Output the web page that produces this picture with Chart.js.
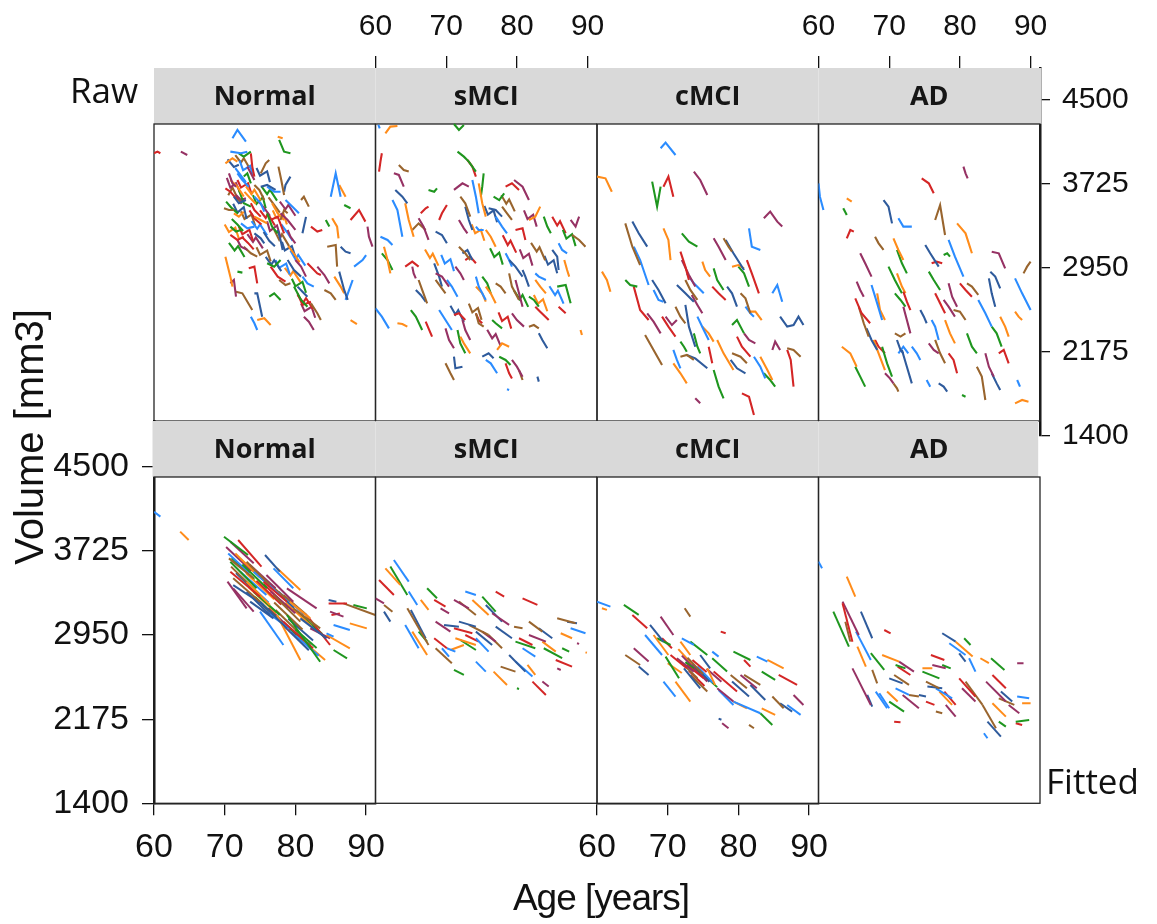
<!DOCTYPE html>
<html lang="en">
<head>
<meta charset="UTF-8" />
<title>Volume trajectories</title>
<script src="https://cdn.jsdelivr.net/npm/chart.js"></script>
<style>
  body { margin: 0; background: #fff; width: 1157px; height: 924px; position: relative; overflow: hidden; }
  canvas { position: absolute; left: 0; top: 0; }
  .lab { position: absolute; z-index: 10; color: #111; white-space: nowrap; }
  #raw { left: 70px; top: 72px; font: 35px/35px "Open Sans", sans-serif; }
  #fitted { left: 1046px; top: 763px; font: 35px/35px "Open Sans", sans-serif; }
  #ylab { left: -121px; top: 417px; width: 300px; text-align: center; font: 40px/40px "Liberation Sans", Arial, sans-serif; transform: rotate(-90deg); }
  #xlab { left: 451px; top: 878px; width: 300px; text-align: center; font: 37px/40px "Liberation Sans", Arial, sans-serif; letter-spacing: -1px; }
</style>
</head>
<body>
<div class="lab" id="raw">Raw</div>
<div class="lab" id="fitted">Fitted</div>
<div class="lab" id="ylab">Volume [mm3]</div>
<div class="lab" id="xlab">Age [years]</div>

<script>
const groups = ['Normal', 'sMCI', 'cMCI', 'AD'];
const ageTicks = [60, 70, 80, 90];
const volumeTicks = [1400, 2175, 2950, 3725, 4500];

// one subject per row: age, volume, age, volume, ...
const rawNormal = [
  [71.1,4144, 71.8,4221, 73.0,4113], [77.5,4159, 78.2,4144], [77.7,4129, 78.4,4021, 79.3,4006],
  [60.0,4006, 60.5,4021, 60.9,4006], [63.8,4021, 64.7,3990], [77.6,3883, 78.0,3760, 78.4,3622],
  [78.4,3652, 78.6,3714, 79.3,3791], [85.0,3606, 85.7,3821, 86.4,3606], [86.2,3714, 87.1,3606],
  [86.9,3529, 87.8,3499], [87.8,3391, 89.0,3483, 89.9,3376], [90.2,3330, 90.4,3237, 90.9,3145],
  [80.8,3575, 81.2,3606, 81.9,3514], [81.0,3268, 81.5,3420], [78.6,3575, 79.8,3499, 80.5,3453],
  [85.2,3407, 85.9,3330, 86.1,3222], [84.3,3391, 84.8,3330], [82.2,3330, 83.1,3284, 83.8,3299],
  [78.9,3299, 79.3,3237, 80.0,3176], [84.5,3145, 85.7,3161, 85.9,2961], [86.4,3145, 87.1,3099, 87.8,3084],
  [88.3,2961, 89.5,3022, 90.0,3068], [70.1,3053, 70.8,2869, 71.1,2777], [71.8,2915, 72.5,2906],
  [73.4,2946, 74.2,2961, 74.6,2807], [70.8,2807, 71.3,2838, 71.6,2685], [71.6,2730, 72.5,2715, 73.9,2561],
  [74.2,2715, 74.6,2715, 75.3,2500], [73.7,2500, 74.2,2439, 74.6,2377], [74.6,2469, 75.6,2485, 76.5,2423],
  [76.3,2684, 77.0,2715, 77.9,2654], [81.7,2992, 83.1,2899, 83.6,2884], [83.1,2961, 84.1,2884, 84.8,2807],
  [84.1,2746, 85.0,2715, 85.7,2654], [86.2,2915, 86.9,2746, 87.4,2654], [87.1,2654, 87.6,2746, 88.1,2838],
  [85.5,2869, 86.4,2777, 86.9,2715], [79.8,2777, 80.8,2654, 81.7,2592], [80.3,2715, 81.0,2608, 82.2,2638],
  [81.2,2500, 81.9,2454, 82.6,2377], [82.2,2623, 83.1,2531, 83.6,2469], [80.3,2777, 81.0,2730, 81.7,2684],
  [81.0,2869, 81.7,2807, 82.6,2777], [87.8,2469, 88.7,2432], [76.0,2992, 77.0,2961, 77.9,3022],
  [76.5,2961, 77.5,2869, 78.6,2823], [80.0,3022, 80.8,2961, 81.5,2869], [77.7,2838, 78.6,2792, 79.3,2807],
  [78.9,3022, 79.8,2930, 80.8,2869], [70.8,4021, 72.3,4006, 73.2,4021], [70.1,3913, 71.1,3960, 71.8,3929],
  [72.0,4006, 72.7,3975, 73.7,4021], [73.7,4006, 73.9,3883, 74.2,3791], [70.6,3821, 71.1,3729, 71.6,3698],
  [69.9,3499, 70.6,3483, 71.3,3483], [71.3,3606, 72.0,3545, 73.0,3575], [71.8,3821, 72.5,3760, 73.4,3698],
  [70.8,3760, 71.8,3698, 72.7,3606], [72.0,3668, 72.7,3545, 73.7,3514], [73.7,3545, 74.2,3483, 75.1,3422],
  [73.2,3883, 73.7,3821, 74.2,3760], [75.1,3821, 75.8,3913, 76.3,3944], [75.1,3698, 76.0,3714, 77.2,3668],
  [76.0,3698, 77.0,3652, 77.9,3652], [71.3,3453, 72.0,3422, 72.7,3468], [70.8,3330, 71.6,3284, 72.3,3299],
  [70.8,3253, 71.8,3207, 72.7,3237], [71.8,3207, 72.3,3145, 73.2,3115], [72.7,3145, 73.7,3084, 74.6,3053],
  [74.2,3268, 75.1,3222, 75.6,3176], [72.3,3360, 73.2,3314, 74.2,3330], [74.2,3422, 75.1,3391, 76.0,3360],
  [76.0,3453, 76.7,3330, 77.5,3268], [76.5,3391, 77.5,3422, 78.4,3268], [77.9,3453, 78.9,3391, 80.0,3299],
  [77.9,3391, 78.4,3483, 78.9,3453], [77.5,3299, 77.9,3207, 78.2,3115], [74.2,3606, 75.1,3545, 75.6,3468],
  [76.7,3545, 77.5,3453, 78.4,3391], [72.7,3791, 73.2,3821, 73.7,3729], [70.1,3683, 70.8,3652, 71.8,3575],
  [71.6,3622, 72.3,3575, 73.0,3591], [74.2,3714, 74.9,3668, 75.6,3575], [70.4,3950, 71.3,3880, 72.0,3900],
  [71.5,3870, 72.3,3800, 73.0,3740], [72.8,3650, 73.5,3600, 74.4,3540], [70.2,3560, 71.0,3500, 71.9,3450],
  [73.5,3480, 74.3,3400, 75.2,3350], [74.8,3560, 75.6,3500, 76.4,3430], [76.2,3600, 77.0,3530, 77.8,3460],
  [75.5,3280, 76.3,3200, 77.1,3150], [78.0,3350, 78.8,3280, 79.6,3200], [79.0,3150, 79.8,3080, 80.6,3000],
  [71.0,3400, 71.8,3350, 72.6,3290], [72.5,3230, 73.3,3180, 74.1,3120],
  [70.3,3780, 70.8,3690, 71.6,3730, 72.2,3640], [70.5,3620, 71.1,3690, 71.9,3580, 72.4,3540],
  [71.2,3540, 71.8,3460, 72.7,3510, 73.1,3400], [72.1,3940, 72.6,3850, 73.6,3890, 74.0,3800],
  [73.0,3700, 73.8,3630, 74.2,3670, 75.1,3570], [74.0,3620, 74.5,3540, 75.4,3600, 75.8,3500],
  [75.0,3480, 75.8,3410, 76.1,3450, 77.1,3340], [76.0,3380, 76.4,3290, 77.4,3340, 77.9,3230],
  [77.0,3300, 77.7,3210, 78.1,3260, 79.1,3150], [78.1,3190, 78.5,3110, 79.5,3150, 80.0,3050],
  [79.3,3110, 80.0,3030, 80.4,3070, 81.4,2970], [70.0,3350, 70.6,3280, 71.5,3320, 72.0,3220],
  [70.6,3180, 71.4,3110, 71.9,3150, 72.8,3050], [72.0,3330, 72.5,3260, 73.5,3300, 74.0,3200],
  [73.2,3260, 74.0,3190, 74.4,3230, 75.4,3130], [74.5,3140, 75.0,3070, 76.0,3110, 76.5,3010],
  [75.8,3050, 76.6,2980, 77.0,3020, 78.0,2920], [77.2,3020, 77.7,2950, 78.7,2990, 79.2,2890],
  [78.5,2950, 79.3,2880, 79.7,2920, 80.7,2820], [79.5,2850, 80.0,2780, 81.0,2820, 81.5,2720],
  [80.3,2700, 81.1,2630, 81.5,2670, 82.5,2570], [80.8,2620, 81.3,2550, 82.3,2590, 82.8,2490],
  [71.5,3990, 72.3,3920, 72.7,3960, 73.5,3870], [74.5,3870, 75.0,3800, 76.0,3840, 76.4,3740],
  [73.8,3380, 74.6,3310, 75.0,3350, 76.0,3250], [76.8,3480, 77.3,3410, 78.3,3450, 78.8,3350],
  [75.2,3700, 76.0,3630, 76.4,3670, 77.4,3570], [71.8,3760, 72.3,3690, 73.3,3730, 73.8,3630],
  [77.8,3560, 78.6,3490, 79.0,3530, 80.0,3430], [72.3,3470, 72.8,3400, 73.8,3440, 74.3,3340]
];

const rawSMCI = [
  [60.4,4267, 60.6,4236], [61.4,4190, 62.1,4252, 63.1,4258], [71.1,4276, 71.8,4221, 72.5,4267],
  [60.5,3837, 60.7,3929, 60.9,4006], [62.6,3821, 63.3,3806, 64.0,3698], [63.3,3898, 64.0,3852, 64.7,3837],
  [62.8,3668, 63.8,3606, 64.5,3545], [62.4,3575, 63.1,3483, 63.8,3237], [64.2,3545, 64.7,3391, 65.4,3237],
  [67.5,3668, 68.3,3652, 68.7,3683], [66.4,3453, 67.1,3499, 67.5,3514], [66.1,3407, 66.8,3330, 67.5,3207],
  [65.2,3299, 66.1,3360, 67.1,3299], [68.5,3284, 69.4,3253, 70.1,3176], [60.7,3237, 61.7,3207, 62.4,3161],
  [61.2,3145, 61.7,3022, 62.1,2899], [60.9,3084, 61.7,3022, 62.4,2930], [64.2,2961, 65.2,3007, 66.1,2961],
  [65.2,2961, 65.4,2899, 65.7,2853], [66.1,2838, 66.6,2746, 67.3,2623], [65.7,2746, 66.4,2700, 67.1,2638],
  [60.0,2577, 60.9,2500, 61.9,2392], [63.1,2439, 63.8,2432, 64.5,2408], [65.0,2561, 65.7,2500, 66.6,2377],
  [67.1,2454, 67.5,2392, 68.0,2316], [69.9,2392, 70.4,2285, 71.1,2208], [69.9,2070, 70.6,1978, 71.1,1916],
  [71.1,2131, 71.3,2024, 72.3,2039], [69.0,2561, 69.9,2469, 70.8,2377], [72.0,2316, 72.5,2254, 73.4,2162],
  [71.6,2377, 72.0,2254, 72.7,2162], [71.1,2515, 71.8,2531, 72.7,2469], [72.3,2469, 72.7,2377, 73.4,2285],
  [74.2,2531, 74.6,2439, 75.3,2408], [75.1,2131, 76.0,2162, 76.7,2116], [75.6,2101, 76.3,2070, 77.2,1978],
  [77.2,2193, 77.9,2254, 78.9,2223], [77.5,2131, 78.4,2101, 79.1,2054], [78.4,2070, 78.9,1978, 79.3,1931],
  [79.3,2101, 80.0,2039, 80.8,1947], [80.3,2008, 80.8,1916], [82.9,1947, 83.1,1901], [78.6,1830, 78.9,1824],
  [89.0,2377, 89.2,2331], [71.6,4021, 72.5,3975, 73.2,3929, 74.2,3837], [73.0,3944, 73.7,3883, 74.2,3791],
  [71.1,3668, 72.3,3729, 73.2,3698], [72.0,3606, 72.7,3545, 73.4,3422], [72.7,3514, 73.2,3391, 73.7,3299],
  [73.7,3760, 74.2,3606, 74.6,3453], [74.6,3729, 75.1,3545, 75.6,3422], [74.9,3606, 75.1,3698, 75.3,3821],
  [69.0,3391, 69.4,3453, 70.1,3529], [71.8,3391, 72.5,3314, 73.0,3268], [71.8,3145, 72.7,3084, 73.4,3022],
  [72.3,3084, 73.0,3115, 73.7,3022], [74.2,3330, 74.6,3299, 75.3,3299], [75.6,3299, 76.3,3237, 77.0,3145],
  [76.7,3606, 77.5,3575, 78.2,3637], [78.4,3698, 79.3,3729, 80.3,3668], [79.6,3760, 80.8,3698, 81.7,3575],
  [77.9,3514, 78.6,3453, 79.3,3391], [76.0,3499, 77.0,3483, 77.9,3422], [77.0,3422, 77.9,3330, 78.6,3268],
  [81.7,3391, 82.6,3422, 83.3,3514], [83.8,3422, 84.3,3330, 84.8,3268], [79.8,3299, 80.8,3314, 81.2,3207],
  [87.6,3391, 88.3,3330, 88.8,3422], [87.8,3253, 88.8,3207, 89.7,3145], [85.0,3115, 85.7,3053, 85.9,2930],
  [85.9,3176, 86.4,3115, 87.1,3084], [86.7,3022, 87.1,2930, 87.4,2869], [85.7,2777, 86.9,2792, 87.6,2623],
  [85.9,2592, 86.4,2561, 86.9,2531], [79.8,2838, 80.3,2715, 80.8,2592], [78.9,2899, 79.3,2777, 80.3,2654],
  [78.9,3022, 79.8,2961, 80.8,2869], [82.6,2899, 83.1,2869, 84.1,2838], [82.6,2838, 83.3,2777, 84.1,2715],
  [81.7,2684, 82.4,2654, 83.1,2592], [82.6,2592, 83.3,2546, 84.5,2469], [79.3,2531, 80.0,2469, 81.0,2408],
  [81.7,2408, 82.4,2423, 83.1,2392], [83.1,2346, 83.6,2285, 84.3,2208], [74.2,2869, 74.6,2777, 75.6,2654],
  [75.6,2777, 76.3,2715, 77.0,2623], [76.5,2469, 77.0,2439, 77.9,2392], [74.2,2531, 74.6,2469, 75.1,2439],
  [68.5,2899, 69.4,2869, 70.4,2777], [68.5,2838, 69.2,2777, 69.9,2715], [68.3,2992, 69.0,2869, 69.4,2777],
  [70.1,2838, 70.8,2777, 71.6,2684], [74.2,2777, 75.1,2715, 75.6,2638], [75.1,2869, 75.8,2807, 76.3,2715],
  [72.7,3022, 73.4,3053, 74.2,2992], [71.3,2961, 72.0,2899, 72.5,2838], [77.0,2807, 77.7,2777, 78.4,2715],
  [80.8,2930, 81.2,2869, 81.7,2777], [78.4,3084, 78.9,3022, 79.3,2961],
  [73.6,3350, 74.1,3270, 74.9,3300, 75.4,3200], [76.2,3130, 76.8,3050, 77.5,3090, 78.0,2980],
  [78.0,3250, 78.7,3160, 79.1,3200, 79.9,3090], [80.4,3120, 80.9,3040, 81.7,3080, 82.2,2970],
  [82.0,3180, 82.8,3100, 83.2,3140, 84.0,3020], [83.9,3060, 84.4,2980, 85.2,3020, 85.7,2900],
  [84.6,2780, 85.4,2700, 85.8,2740, 86.6,2620], [82.4,2700, 83.0,2620, 83.7,2660, 84.3,2550],
  [79.6,2740, 80.4,2660, 80.8,2700, 81.6,2590], [77.4,2540, 77.9,2460, 78.7,2500, 79.2,2390],
  [75.8,2380, 76.5,2300, 77.0,2340, 77.7,2230], [73.2,2620, 73.7,2540, 74.5,2580, 75.0,2470],
  [70.6,2600, 71.3,2520, 71.7,2560, 72.5,2450], [69.3,3070, 69.8,2990, 70.6,3030, 71.1,2920],
  [67.0,3120, 67.7,3040, 68.1,3080, 68.9,2970], [86.5,3300, 87.0,3220, 87.8,3260, 88.3,3150],
  [85.0,3420, 85.7,3340, 86.1,3380, 86.9,3270], [81.0,3480, 81.5,3400, 82.3,3440, 82.8,3330],
  [77.8,3620, 78.5,3540, 78.9,3580, 79.7,3470], [75.4,3520, 75.9,3440, 76.7,3480, 77.2,3370]
];

const rawCMCI = [
  [69.0,4052, 69.7,4104, 71.1,3990], [60.0,3791, 61.2,3775, 62.1,3652], [67.8,3745, 68.5,3514, 69.0,3698],
  [69.4,3698, 70.1,3791, 70.8,3606], [73.7,3837, 74.6,3760, 75.6,3622], [64.0,3360, 65.0,3145, 66.1,2976],
  [65.0,3376, 65.9,3268, 67.1,3145], [65.2,3145, 66.1,3022, 67.3,2792], [60.7,2915, 61.4,2838, 61.9,2730],
  [64.0,2838, 64.7,2792, 65.7,2777], [65.2,2777, 66.1,2561, 67.3,2469], [67.1,2531, 68.0,2454, 69.0,2346],
  [66.8,2331, 68.0,2193, 69.2,2054], [67.8,2838, 68.7,2746, 69.7,2623], [68.0,2746, 68.7,2654, 69.4,2638],
  [69.4,3314, 70.1,3207, 70.4,3022], [72.0,3268, 73.0,3191, 74.2,3145], [71.8,3099, 72.5,2961, 73.0,2838],
  [72.0,3022, 73.0,2884, 73.9,2777], [72.5,2838, 73.2,2746, 74.2,2654], [71.3,2792, 72.5,2715, 73.7,2638],
  [72.7,2899, 73.7,2807, 75.1,2715], [74.9,3007, 75.3,2930, 76.0,2869], [76.5,2945, 77.0,2838, 77.9,2746],
  [76.3,2777, 77.2,2715, 78.2,2654], [76.5,3222, 77.2,3145, 78.2,3022], [77.9,3222, 78.6,3145, 79.1,3099],
  [78.2,3207, 79.3,3084, 80.8,2930], [81.5,3314, 81.9,3145, 83.1,3115], [79.1,2961, 80.0,2976, 80.8,2945],
  [80.0,2961, 80.8,2899, 81.5,2777], [81.2,3022, 81.9,2899, 82.9,2715], [83.6,3407, 84.5,3468, 85.5,3376, 86.2,3330],
  [80.3,2715, 81.0,2669, 81.7,2531], [78.4,2777, 79.1,2715, 79.8,2592], [81.0,2592, 81.7,2531, 82.2,2500],
  [81.5,2546, 82.4,2546, 83.3,2469], [79.1,2423, 79.8,2469, 80.8,2346], [79.8,2316, 80.5,2223, 81.7,2131],
  [80.8,2346, 81.5,2285, 82.4,2254], [79.1,2162, 80.3,2131, 81.2,2070], [78.9,2101, 79.8,2024, 81.0,1978],
  [82.2,2131, 83.1,2039, 83.8,1931], [83.1,2131, 84.1,2008, 84.8,1916], [83.6,1978, 84.5,1916, 85.2,1855],
  [86.9,2193, 87.4,2101, 87.8,1855], [84.8,2193, 85.2,2270, 85.9,2193], [86.9,2208, 87.8,2193, 88.8,2131],
  [85.9,2500, 86.9,2408, 87.8,2423, 88.5,2500, 89.2,2423], [84.8,2715, 85.5,2792, 86.2,2638],
  [77.0,2285, 77.9,2162, 79.3,2008], [76.5,2008, 77.2,1855, 77.9,1747], [80.5,1793, 81.5,1762, 82.2,1594],
  [73.9,1747, 74.6,1701], [71.8,2131, 72.7,2147, 73.7,2101], [72.7,2147, 73.9,2116, 75.6,2024],
  [70.8,2193, 71.3,2101, 71.8,2024], [70.8,2070, 71.8,1978, 72.7,1885], [71.8,2270, 72.3,2223, 72.7,2177],
  [69.2,2500, 70.1,2408, 71.1,2316], [69.7,2500, 70.6,2423, 71.3,2469], [71.1,2592, 71.8,2500, 72.5,2439],
  [72.5,2608, 73.0,2408, 73.9,2223], [74.2,2500, 75.1,2377, 75.8,2285], [74.9,2408, 75.8,2346, 76.5,2270],
  [73.7,2346, 74.2,2223, 74.6,2162], [75.8,2223, 76.0,2162, 76.3,2070], [73.4,2700, 74.2,2608, 74.9,2531]
];

const rawAD = [
  [60.0,3729, 60.2,3606, 60.7,3483], [64.0,3591, 64.7,3560], [63.5,3499, 64.0,3437], [64.0,3222, 64.5,3299, 65.0,3284],
  [65.9,3084, 66.6,2992, 67.5,2869], [68.0,3237, 68.5,3176, 69.2,3115], [69.2,3575, 69.9,3514, 70.4,3360],
  [71.3,3407, 72.0,3330, 73.2,3330], [70.6,3222, 71.3,3115, 72.0,3022], [71.1,3115, 71.8,2992, 72.5,2899],
  [74.6,3775, 75.6,3729, 76.3,3637], [80.5,3883, 80.8,3821, 81.1,3775], [76.5,3391, 77.2,3529, 77.9,3253],
  [75.1,3161, 75.8,3084, 77.0,2961], [78.4,3207, 79.3,3053, 80.5,2869], [79.6,3360, 80.8,3268, 81.7,3084],
  [77.7,3068, 78.2,3084, 78.6,3053], [76.0,2992, 76.7,3007, 77.5,2992], [84.5,3099, 85.5,3084, 86.4,2945],
  [89.0,2899, 89.5,2961, 90.0,3007], [84.3,2915, 85.0,2869, 85.7,2761], [87.8,2853, 88.8,2715, 90.0,2561],
  [87.8,2546, 88.3,2500, 88.8,2469], [75.6,2915, 76.3,2838, 77.2,2746], [80.0,2807, 80.8,2746, 81.7,2684],
  [78.4,2807, 78.9,2684, 79.6,2592], [81.0,2807, 81.7,2777, 82.6,2700], [84.1,2853, 84.5,2715, 85.0,2592],
  [82.6,2654, 83.6,2531, 84.5,2408], [85.7,2500, 86.4,2408, 86.9,2316], [84.5,2408, 85.2,2346, 85.9,2223],
  [85.5,2162, 86.2,2193, 86.9,2070], [83.6,2162, 84.1,2039, 84.8,1947], [82.4,2039, 83.1,1947, 83.6,1732],
  [84.5,1978, 85.2,1885, 85.7,1824], [88.1,1916, 88.5,1855], [87.8,1701, 88.8,1732, 89.7,1716],
  [80.3,1778, 80.8,1762], [76.5,2715, 77.2,2623, 77.9,2531], [77.7,2654, 78.4,2592, 79.3,2500],
  [79.1,2561, 80.0,2546, 80.8,2469], [74.4,2561, 74.9,2500, 75.3,2439], [76.0,2469, 76.5,2408, 77.0,2285],
  [77.9,2469, 78.6,2346, 79.3,2254], [81.0,2346, 81.7,2223, 82.4,2162], [78.4,2162, 79.1,2101, 79.6,1978],
  [75.6,2254, 76.3,2193, 77.0,2162], [76.5,2285, 77.2,2162, 77.9,2070], [77.0,1885, 77.7,1855, 78.2,1809],
  [75.3,1916, 75.8,1855], [63.3,2223, 64.5,2162, 65.4,2039], [65.2,2039, 65.9,1947, 66.6,1855],
  [65.2,2669, 66.1,2531, 67.3,2439], [65.4,2823, 65.9,2746, 66.4,2684], [65.7,2592, 66.4,2439, 67.1,2316],
  [66.8,2392, 67.5,2285, 68.3,2193], [67.5,2792, 68.3,2623, 69.0,2469], [68.3,2715, 68.7,2561, 69.4,2469],
  [69.9,2961, 70.8,2838, 71.8,2715], [72.0,2731, 72.5,2638, 73.0,2561], [72.0,2592, 72.5,2469, 73.0,2346],
  [70.8,2346, 71.6,2316, 72.3,2346], [71.1,2285, 71.6,2193, 72.0,2162], [71.3,2162, 72.0,2223, 72.7,2162],
  [67.8,2285, 68.5,2162, 69.4,2008], [69.0,2223, 69.7,2070, 70.4,1947], [68.0,2285, 68.5,2223, 69.4,2162],
  [69.4,1978, 70.1,1931, 70.6,1885], [70.6,1885, 71.1,1839, 71.3,1809], [71.8,2193, 72.5,2039, 73.2,1885],
  [73.2,2223, 73.9,2162, 74.4,2101], [71.1,2899, 71.8,2777, 72.3,2715], [70.8,2715, 71.6,2654, 72.3,2592]
];

const fitNormal = [
  [60.0,4086, 60.9,4040], [63.7,3902, 64.9,3825], [69.9,3855, 73.3,3687], [71.9,3825, 75.2,3579],
  [70.8,3809, 74.1,3610], [70.6,3656, 74.1,3472], [75.7,3687, 77.8,3533], [76.9,3564, 79.7,3380],
  [77.4,3564, 80.7,3364], [70.8,3625, 74.5,3380], [70.8,3533, 75.0,3303], [70.4,3441, 73.1,3195],
  [71.2,3472, 75.0,3257], [71.2,3410, 75.5,3226], [72.2,3533, 75.9,3318], [73.1,3441, 76.4,3226],
  [74.1,3349, 77.8,3134], [75.5,3441, 78.8,3257], [75.9,3502, 79.7,3257], [76.9,3318, 80.7,3073],
  [75.0,3257, 78.8,3011], [75.0,3165, 78.3,2858], [77.4,3134, 80.7,2720], [78.8,3134, 83.5,2704],
  [78.3,3073, 82.5,2827], [78.8,3380, 83.0,3195], [79.7,3195, 83.5,3011], [80.7,3103, 84.4,2919],
  [84.4,2965, 85.4,2935], [84.4,2950, 87.7,2827], [85.4,2812, 87.3,2735], [84.7,3241, 87.3,3241],
  [84.9,3165, 86.8,3119], [86.8,3241, 91.3,3134], [84.7,3272, 85.8,3257], [85.4,3042, 87.7,2996],
  [87.7,3057, 90.1,3011], [88.2,3226, 90.1,3195], [85.1,3134, 86.3,3149], [71.2,3380, 74.1,3165],
  [73.1,3625, 76.4,3410], [73.6,3257, 76.9,3103], [74.1,3533, 77.8,3318], [79.2,3257, 82.1,3103],
  [79.2,3011, 82.1,2858], [81.6,3134, 84.9,2858], [82.1,3011, 84.9,2919], [78.3,3318, 81.6,3134],
  [73.1,3349, 76.4,3134], [75.9,3165, 79.7,2981], [71.5,3700, 75.0,3480], [72.5,3600, 76.0,3380],
  [74.5,3450, 78.0,3230], [76.5,3350, 80.0,3150], [77.0,3250, 81.0,3000], [79.0,3100, 82.5,2900],
  [70.5,3700, 73.5,3520], [73.0,3520, 77.0,3280], [80.0,3000, 83.0,2830], [75.5,3420, 79.0,3200],
  [70.2,3760, 73.8,3540], [70.9,3580, 74.8,3330], [71.6,3520, 75.6,3270], [72.4,3480, 76.2,3250],
  [73.4,3390, 77.3,3150], [74.3,3300, 78.1,3060], [75.3,3230, 79.3,2990], [76.2,3200, 80.2,2950],
  [77.2,3180, 81.3,2920], [78.1,3050, 81.9,2810], [79.4,2980, 83.3,2760], [80.6,2920, 84.2,2720],
  [71.0,3660, 74.2,3460], [72.0,3660, 75.6,3450], [73.5,3600, 77.2,3380], [74.9,3500, 78.6,3290],
  [76.0,3430, 79.8,3200], [77.6,3350, 81.2,3140], [78.6,3250, 82.3,3030], [80.3,3160, 83.8,2960]
];

const fitSMCI = [
  [62.6,3641, 64.7,3442], [61.4,3564, 63.5,3411], [62.1,3580, 64.5,3319], [60.5,3457, 62.6,3319],
  [60.0,3288, 61.2,3242], [61.2,3227, 62.4,3165], [61.2,3165, 62.1,3073], [64.7,3350, 65.9,3227],
  [66.4,3273, 67.5,3181], [67.3,3380, 68.7,3288], [68.3,3273, 69.9,3211], [69.2,3196, 70.4,3150],
  [64.5,3196, 67.5,2858], [65.0,3181, 67.1,2919], [64.2,3043, 66.1,2828], [65.2,2981, 67.3,2766],
  [66.1,2981, 67.3,2889], [68.3,2920, 70.1,2828], [68.5,3073, 70.6,2981], [68.5,2828, 70.8,2690],
  [69.7,3043, 71.8,3027], [70.1,2828, 71.3,2797], [70.6,2812, 72.5,2858], [71.1,2628, 72.5,2582],
  [71.1,3012, 73.7,2966], [71.1,3273, 73.2,3196], [71.8,3258, 74.2,3135], [71.8,3073, 74.2,3027],
  [72.7,3350, 74.2,3319], [73.7,3273, 76.0,3135], [75.1,3304, 77.0,3165], [77.0,3350, 78.2,3304],
  [76.5,3150, 78.9,3043], [73.2,3043, 76.0,2950], [74.2,2981, 76.5,2858], [74.2,2920, 76.0,2797],
  [71.3,2920, 74.2,2858], [72.0,2904, 74.2,2812], [72.7,2950, 74.6,2889], [75.1,2981, 77.0,2889],
  [76.0,2950, 77.9,2828], [77.0,3027, 79.3,2920], [74.2,2705, 75.6,2613], [76.7,2613, 78.6,2490],
  [80.0,2459, 80.3,2453], [82.2,2521, 84.1,2398], [83.6,2521, 84.5,2475], [77.7,2659, 79.8,2613],
  [78.9,2766, 81.2,2613], [79.8,2705, 82.2,2567], [81.5,2674, 82.6,2582], [79.8,2889, 82.6,2828],
  [80.3,2920, 82.2,2858], [81.7,2950, 84.1,2889], [81.7,3073, 83.6,2981], [83.1,3012, 85.0,2920],
  [80.8,2828, 82.6,2751], [83.6,2889, 85.5,2797], [83.8,2828, 86.4,2736], [85.5,2720, 87.8,2659],
  [85.7,2643, 86.2,2628], [85.7,3104, 88.3,3058], [87.1,3073, 88.5,3058], [87.6,3012, 89.7,2966],
  [86.2,2966, 87.8,2920], [86.4,2828, 87.4,2797], [80.8,3288, 82.9,3227], [88.5,2874, 88.8,2868],
  [79.6,3027, 80.8,3012], [75.6,3227, 77.9,3073], [69.4,2828, 70.4,2751], [89.7,2790, 89.9,2786]
];

const fitCMCI = [
  [60.0,3257, 61.9,3211], [60.7,3196, 61.4,3181], [63.8,3227, 65.9,3135], [65.0,3135, 67.1,3012],
  [69.0,3119, 70.8,2950], [72.4,3196, 73.2,3119], [67.5,3043, 69.4,2889], [66.8,2950, 69.2,2766],
  [68.0,2950, 70.1,2766], [68.5,2920, 70.4,2858], [69.2,2920, 70.6,2828], [65.2,2828, 67.3,2705],
  [64.0,2766, 66.1,2674], [65.9,2659, 67.3,2582], [69.4,2521, 71.1,2383], [71.1,2521, 73.2,2337],
  [69.7,2751, 71.6,2551], [70.4,2766, 72.7,2643], [71.3,2736, 73.7,2613], [71.8,2705, 74.2,2551],
  [72.3,2643, 74.6,2459], [72.0,2920, 73.7,2858], [71.8,2889, 73.2,2766], [73.2,2889, 75.6,2766],
  [72.7,2674, 75.1,2551], [73.7,2643, 75.6,2521], [73.2,2582, 75.6,2429], [74.6,2766, 76.0,2643],
  [76.3,2797, 77.2,2751], [75.6,2643, 76.7,2490], [76.3,2736, 78.4,2613], [76.5,2613, 79.8,2429],
  [77.0,2459, 79.3,2337], [78.9,2582, 81.2,2459], [79.1,2521, 81.5,2383], [79.3,2337, 83.1,2229],
  [79.3,2337, 81.2,2275], [79.3,2797, 81.7,2720], [80.8,2720, 81.7,2659], [80.3,2582, 82.6,2459],
  [80.8,2582, 83.1,2490], [81.7,2490, 83.8,2352], [82.6,2751, 84.1,2705], [84.1,2720, 86.4,2643],
  [83.3,2613, 85.2,2536], [85.7,2582, 88.3,2490], [87.8,2398, 89.2,2306], [84.8,2383, 86.4,2275],
  [85.9,2321, 87.6,2245], [86.9,2306, 88.8,2214], [83.3,2275, 85.2,2214], [83.1,2229, 84.8,2122],
  [77.5,2981, 78.2,2966], [77.7,2137, 78.6,2091], [81.5,2122, 82.2,2091], [77.2,2180, 77.6,2170],
  [77.2,2444, 79.3,2306], [70.0,2690, 72.0,2600], [72.5,2700, 74.5,2600], [73.5,2720, 75.5,2610],
  [72.0,2760, 74.4,2600], [72.8,2740, 75.0,2590], [73.5,2680, 75.9,2520], [74.2,2660, 76.4,2510],
  [71.5,2820, 73.9,2650], [74.8,2600, 77.0,2470], [73.0,2620, 75.2,2480], [75.5,2640, 77.6,2520]
];

const fitAD = [
  [60.0,3626, 60.5,3564], [64.0,3488, 65.2,3303], [62.1,3165, 64.3,2843], [63.4,3242, 64.8,2889],
  [63.4,3258, 65.7,2950], [63.8,3073, 64.5,2889], [66.0,3165, 67.6,2920], [65.3,2981, 67.4,2720],
  [65.5,2843, 66.7,2659], [67.4,2782, 69.3,2628], [69.3,2996, 70.2,2966], [64.8,2643, 67.4,2306],
  [67.6,2628, 68.3,2505], [66.9,2398, 67.6,2291], [68.1,2429, 69.7,2275], [69.0,2766, 71.4,2705],
  [70.9,2674, 72.3,2643], [71.2,2659, 73.0,2582], [71.4,2705, 73.5,2613], [70.7,2582, 72.8,2490],
  [70.0,2551, 71.9,2505], [70.9,2459, 72.8,2398], [69.7,2429, 71.2,2337], [70.0,2337, 72.1,2245],
  [70.7,2152, 71.6,2146], [71.9,2398, 74.2,2275], [72.8,2398, 74.2,2383], [74.2,2398, 75.2,2383],
  [68.6,2413, 70.0,2275], [74.7,2643, 76.1,2643], [74.7,2613, 77.1,2551], [75.9,2766, 77.8,2720],
  [76.1,2674, 78.0,2643], [75.2,2521, 77.1,2459], [75.4,2475, 77.5,2459], [76.6,2459, 78.9,2367],
  [77.1,2429, 78.9,2306], [77.5,2674, 78.7,2643], [77.8,2429, 79.4,2306], [78.0,2306, 79.4,2198],
  [76.6,2245, 77.5,2229], [77.5,2966, 79.4,2889], [78.5,2874, 80.8,2766], [79.4,2889, 81.8,2751],
  [80.6,2920, 81.5,2858], [79.9,2551, 82.2,2383], [80.3,2459, 82.2,2337], [80.8,2521, 83.2,2306],
  [79.9,2781, 80.8,2705], [81.3,2736, 82.2,2613], [82.9,2736, 84.1,2690], [84.4,2736, 86.3,2628],
  [84.6,2582, 86.5,2459], [83.7,2521, 86.5,2337], [85.5,2367, 87.7,2306], [85.8,2429, 87.4,2337],
  [88.1,2383, 89.8,2367], [88.8,2321, 90.0,2321], [87.9,2152, 89.8,2168], [87.9,2137, 88.8,2122],
  [88.1,2690, 89.0,2690], [83.2,2306, 85.1,2091], [83.9,2152, 85.8,2014], [83.4,2045, 83.9,1999],
  [84.6,2321, 86.5,2198], [85.5,2152, 86.5,2106], [75.2,2337, 76.4,2306], [86.9,2306, 88.4,2229]
];

const rawPanels = [rawNormal, rawSMCI, rawCMCI, rawAD];
const fitPanels = [fitNormal, fitSMCI, fitCMCI, fitAD];

const palette = ['#2b8cff', '#ff8c1a', '#1f961f', '#d42626', '#963264', '#99652e', '#2f5b9c'];
const W = 1157, H = 924;
const colLeft = [154, 375.5, 597, 818.5];
const colRight = [375.5, 597, 818.5, 1040];
const STRIP = 56;
// rows: chart area from strip top to the 1400 tick
const rows = [
  { top: 68, bottom: 436, boxBottom: 421, yMax: 4792, lineWidth: 2.1 },
  { top: 421, bottom: 803.3, boxBottom: 803.3, yMax: 4921, lineWidth: 2.0 }
];
const font = '"Liberation Sans", Arial, sans-serif';

const toPoints = s => {
  const pts = [];
  for (let i = 0; i < s.length; i += 2) pts.push({ x: s[i], y: s[i + 1] });
  return pts;
};

const stripPlugin = {
  id: 'strip',
  beforeDatasetsDraw(chart, args, o) {
    const { ctx, chartArea: a } = chart;
    ctx.save();
    ctx.fillStyle = '#d9d9d9';
    ctx.fillRect(a.left + o.dl, a.top, a.right - a.left - o.dl + o.dr, STRIP);
    ctx.fillStyle = '#161616';
    ctx.font = 'bold 27px "Open Sans", sans-serif';
    ctx.textAlign = 'center';
    ctx.textBaseline = 'middle';
    ctx.fillText(o.text, (a.left + a.right) / 2, a.top + STRIP / 2 + 1);
    // panel box
    ctx.strokeStyle = '#262626';
    ctx.lineWidth = 1.3;
    ctx.strokeRect(a.left, a.top + STRIP, a.right - a.left, o.boxBottom - a.top - STRIP);
    ctx.restore();
  }
};

function makePanel(r, c, segs) {
  const row = rows[r];
  const topX = r === 0 && (c === 1 || c === 3);
  const rightY = r === 0 && c === 3;
  const leftY = r === 1 && c === 0;
  const bottomX = r === 1 && (c === 0 || c === 2);
  const showX = topX || bottomX;
  const showY = rightY || leftY;

  const canvas = document.createElement('canvas');
  canvas.width = W;
  canvas.height = H;
  document.body.appendChild(canvas);

  new Chart(canvas, {
    type: 'line',
    data: {
      datasets: segs.map((s, i) => ({
        data: toPoints(s),
        borderColor: palette[i % palette.length],
        borderWidth: row.lineWidth,
        pointRadius: 0,
        tension: 0,
        fill: false
      }))
    },
    options: {
      responsive: false,
      animation: false,
      devicePixelRatio: 1,
      events: [],
      layout: {
        padding: {
          left: leftY ? 0 : colLeft[c],
          right: rightY ? 0 : W - colRight[c],
          top: topX ? 0 : row.top,
          bottom: bottomX ? 0 : H - row.bottom
        }
      },
      plugins: {
        legend: { display: false },
        tooltip: { enabled: false },
        strip: {
          text: groups[c],
          boxBottom: row.boxBottom,
          dl: (r === 1 && c === 0) ? -1.5 : 0,
          dr: r === 0 ? (c === 3 ? 1.5 : 0) : (c === 3 ? -1.8 : 0)
        }
      },
      scales: {
        x: {
          type: 'linear',
          min: 60,
          max: 91.33,
          position: r === 0 ? 'top' : 'bottom',
          display: showX,
          afterFit: s => { if (showX) s.height = r === 0 ? row.top : H - row.bottom; },
          afterBuildTicks: s => { s.ticks = ageTicks.map(v => ({ value: v })); },
          ticks: {
            autoSkip: false,
            maxRotation: 0,
            padding: r === 0 ? 11 : 12,
            color: '#111',
            font: { family: font, size: r === 0 ? 30 : 34 },
            callback: v => String(v)
          },
          grid: { drawOnChartArea: false, tickLength: 12, color: '#111', lineWidth: 1.3 },
          border: { display: r === 1, color: '#111', width: 1.5 }
        },
        y: {
          type: 'linear',
          min: 1400,
          max: row.yMax,
          position: r === 0 ? 'right' : 'left',
          display: showY,
          afterFit: s => { if (showY) s.width = r === 0 ? W - colRight[3] : colLeft[0]; },
          afterBuildTicks: s => { s.ticks = volumeTicks.map(v => ({ value: v })); },
          ticks: {
            autoSkip: false,
            padding: r === 0 ? 12 : 13,
            color: '#111',
            font: { family: font, size: r === 0 ? 30 : 34 },
            callback: v => String(v)
          },
          grid: { drawOnChartArea: false, tickLength: r === 0 ? 10 : 12, color: '#111', lineWidth: 1.3 },
          border: { display: true, color: '#111', width: 2.5 }
        }
      }
    },
    plugins: [stripPlugin]
  });
}

rawPanels.forEach((segs, c) => makePanel(0, c, segs));
fitPanels.forEach((segs, c) => makePanel(1, c, segs));
</script>
</body>
</html>
